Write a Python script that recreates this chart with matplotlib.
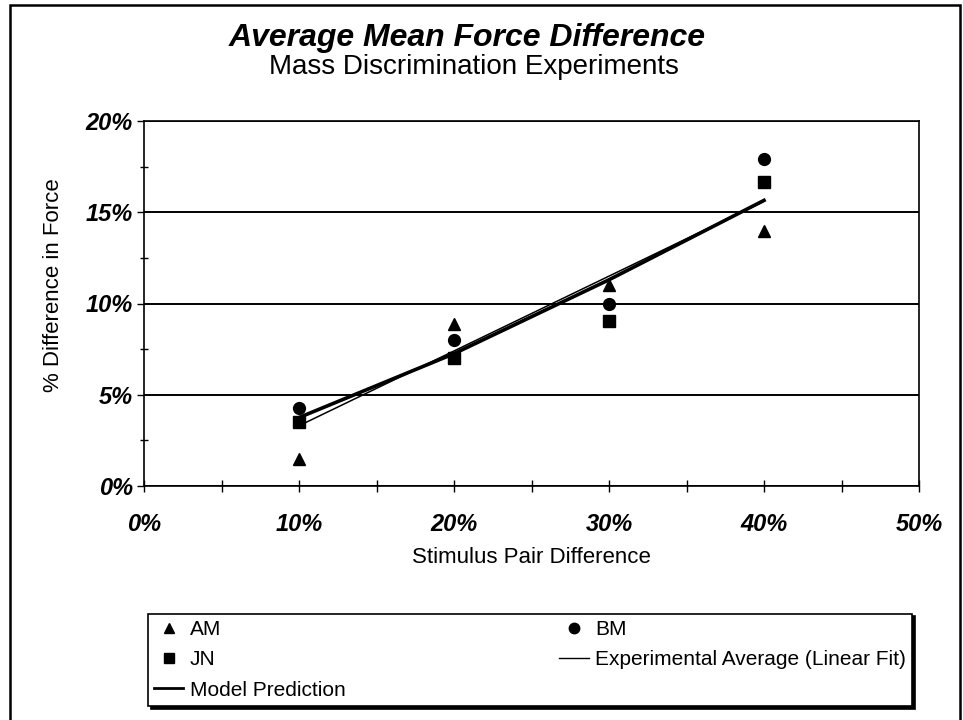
import matplotlib.pyplot as plt
from matplotlib.ticker import MultipleLocator, FuncFormatter
from matplotlib.lines import Line2D

plt.rcParams['font.family'] = ['Liberation Sans', 'DejaVu Sans']

# stimulus pair difference (%)
stim = [10, 20, 30, 40]
am = [1.5, 8.9, 11.0, 14.0]
bm = [4.3, 8.0, 9.95, 17.9]
jn = [3.5, 7.0, 9.05, 16.65]

# fitted / model lines
fit_x = [10, 40]
fit_y = [3.3, 15.6]
model_x = [10, 20, 30, 40]
model_y = [3.75, 7.25, 11.3, 15.65]

fig = plt.figure(figsize=(9.63, 7.2), dpi=100)
ax = fig.add_axes([144/963, 1-486/720, (919-144)/963, (486-121)/720])

ax.plot(model_x, model_y, color='black', lw=2.6, zorder=3)
ax.plot(fit_x, fit_y, color='black', lw=1.1, zorder=3)
ax.plot(stim, am, '^', color='black', ms=8.5, ls='none', zorder=4)
ax.plot(stim, bm, 'o', color='black', ms=8.5, ls='none', zorder=4)
ax.plot(stim, jn, 's', color='black', ms=8, ls='none', zorder=4)

ax.set_xlim(0, 50)
ax.set_ylim(0, 20)
ax.xaxis.set_major_locator(MultipleLocator(10))
ax.xaxis.set_minor_locator(MultipleLocator(5))
ax.yaxis.set_major_locator(MultipleLocator(5))
ax.yaxis.set_minor_locator(MultipleLocator(2.5))
pct = FuncFormatter(lambda v, p: '%d%%' % v)
ax.xaxis.set_major_formatter(pct)
ax.yaxis.set_major_formatter(pct)
ax.tick_params(axis='x', which='both', direction='inout', length=9, width=1, pad=15)
ax.tick_params(axis='y', which='major', direction='out', length=5, width=1, pad=3)
ax.tick_params(axis='y', which='minor', direction='inout', length=6, width=1)
for lab in ax.get_xticklabels() + ax.get_yticklabels():
    lab.set_fontsize(17)
    lab.set_fontweight('bold')
    lab.set_fontstyle('italic')

ax.yaxis.grid(True, which='major', color='black', lw=1.4)
for s in ax.spines.values():
    s.set_color('black')
    s.set_linewidth(1.2)

ax.set_xlabel('Stimulus Pair Difference', fontsize=16)
ax.set_ylabel('% Difference in Force', fontsize=16)
ax.xaxis.set_label_coords(0.5, -0.168)
ax.yaxis.set_label_coords(-0.103, 0.55)

fig.text(0.485, 1-46/720, 'Average Mean Force Difference', fontsize=23,
         fontweight='bold', fontstyle='italic', ha='center', va='baseline')
fig.text(0.492, 1-74/720, 'Mass Discrimination Experiments', fontsize=20,
         ha='center', va='baseline')

handles = [
    Line2D([], [], marker='^', color='black', ls='none', ms=7.5),
    Line2D([], [], marker='s', color='black', ls='none', ms=6.5),
    Line2D([], [], color='black', lw=2),
    Line2D([], [], marker='o', color='black', ls='none', ms=7.5),
    Line2D([], [], color='black', lw=1),
]
labels = ['AM', 'JN', 'Model Prediction', 'BM', 'Experimental Average (Linear Fit)']
leg = fig.legend(handles, labels, ncol=2, loc='lower left',
                 bbox_to_anchor=(148/963, 1-706/720, (912-148)/963, (706-607)/720),
                 mode='expand', fontsize=15, frameon=True, fancybox=False,
                 handlelength=1.4, handletextpad=0.3, labelspacing=0.55,
                 borderpad=0.3, borderaxespad=0, shadow={'color': 'black', 'alpha': 1})
leg.get_frame().set_edgecolor('black')
leg.get_frame().set_linewidth(1.2)

# outer chart border
fig.add_artist(plt.Rectangle((10/963, -0.01), 950/963, 1.01 - 5/720,
                             transform=fig.transFigure, fill=False,
                             ec='black', lw=1.8))

fig.savefig('out.png', dpi=100)
